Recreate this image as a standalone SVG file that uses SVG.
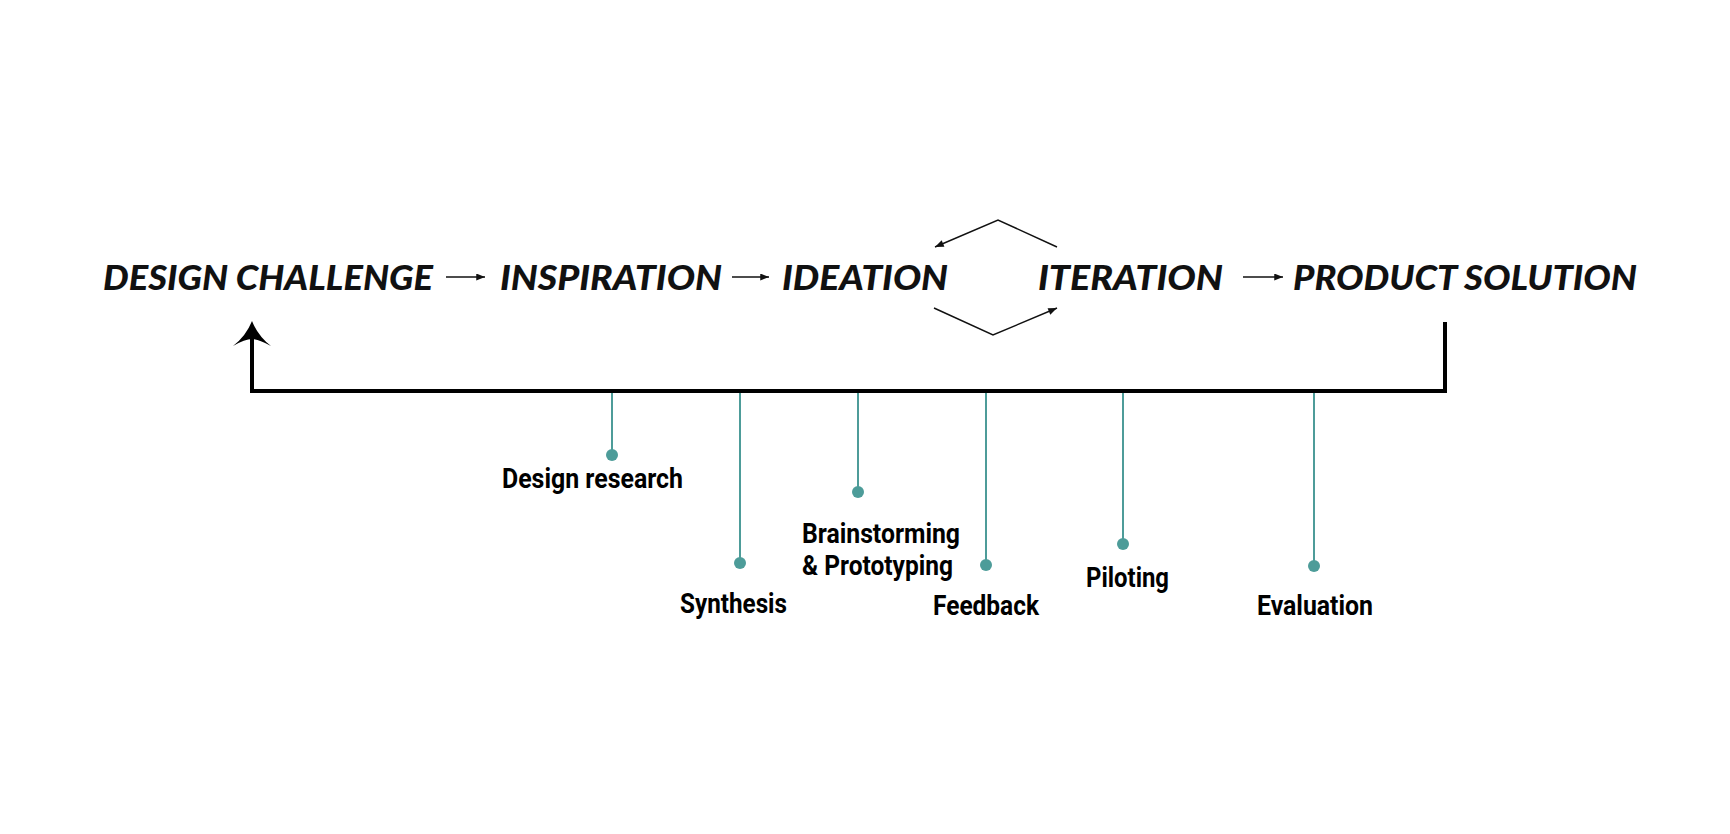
<svg xmlns="http://www.w3.org/2000/svg" width="1730" height="834" viewBox="0 0 1730 834">
<style>
.stage{font-family:"Lato","Liberation Sans","DejaVu Sans",sans-serif;font-weight:900;font-style:italic;font-size:35px;fill:#111;}
.lbl{font-family:"Roboto","Liberation Sans",sans-serif;font-weight:700;font-size:27.5px;fill:#000;}
.thin{stroke:#111;stroke-width:1.5;fill:none;}
.loop{stroke:#000;stroke-width:4;fill:none;stroke-linejoin:miter;}
.tick{stroke:#4d9c99;stroke-width:2;}
.dot{fill:#4d9c99;}
</style>
<defs>
<marker id="ah" viewBox="0 0 10 8" refX="10" refY="4" markerWidth="10" markerHeight="7" markerUnits="userSpaceOnUse" orient="auto">
<path d="M0,0 L10,4 L0,8 Z" fill="#111"/>
</marker>
</defs>
<rect width="1730" height="834" fill="#fff"/>
<g id="node-design-challenge"><text class="stage" x="103" y="290" textLength="330" lengthAdjust="spacingAndGlyphs">DESIGN CHALLENGE</text></g>
<g id="node-inspiration"><text class="stage" x="500" y="290" textLength="222" lengthAdjust="spacingAndGlyphs">INSPIRATION</text></g>
<g id="node-ideation"><text class="stage" x="782" y="290" textLength="166" lengthAdjust="spacingAndGlyphs">IDEATION</text></g>
<g id="node-iteration"><text class="stage" x="1038" y="290" textLength="185" lengthAdjust="spacingAndGlyphs">ITERATION</text></g>
<g id="node-product-solution"><text class="stage" x="1293" y="290" textLength="344" lengthAdjust="spacingAndGlyphs">PRODUCT SOLUTION</text></g>
<g id="connectors">
<line class="thin" x1="446" y1="277" x2="485" y2="277" marker-end="url(#ah)"/>
<line class="thin" x1="732" y1="277" x2="769" y2="277" marker-end="url(#ah)"/>
<line class="thin" x1="1243" y1="277" x2="1283" y2="277" marker-end="url(#ah)"/>
<polyline class="thin" points="1057,247 998,220 935,247" marker-end="url(#ah)"/>
<polyline class="thin" points="934,308 993,335 1057,308" marker-end="url(#ah)"/>
<polyline class="loop" points="1445,322 1445,391 252,391 252,336"/>
<path d="M252,321 Q258,336 271,346 Q259,339 252,339 Q245,339 233,346 Q246,336 252,321 Z" fill="#000"/>
<line class="tick" x1="612" y1="393" x2="612" y2="455"/>
<line class="tick" x1="740" y1="393" x2="740" y2="563"/>
<line class="tick" x1="858" y1="393" x2="858" y2="492"/>
<line class="tick" x1="986" y1="393" x2="986" y2="565"/>
<line class="tick" x1="1123" y1="393" x2="1123" y2="544"/>
<line class="tick" x1="1314" y1="393" x2="1314" y2="566"/>
</g>
<g id="node-design-research"><circle class="dot" cx="612" cy="455" r="6"/><text class="lbl" x="502" y="488" textLength="181" lengthAdjust="spacingAndGlyphs">Design research</text></g>
<g id="node-synthesis"><circle class="dot" cx="740" cy="563" r="6"/><text class="lbl" x="680" y="613" textLength="107" lengthAdjust="spacingAndGlyphs">Synthesis</text></g>
<g id="node-brainstorming"><circle class="dot" cx="858" cy="492" r="6"/><text class="lbl" x="802" y="543" textLength="158" lengthAdjust="spacingAndGlyphs">Brainstorming</text><text class="lbl" x="802" y="575" textLength="151" lengthAdjust="spacingAndGlyphs">&amp; Prototyping</text></g>
<g id="node-feedback"><circle class="dot" cx="986" cy="565" r="6"/><text class="lbl" x="933" y="615" textLength="106" lengthAdjust="spacingAndGlyphs">Feedback</text></g>
<g id="node-piloting"><circle class="dot" cx="1123" cy="544" r="6"/><text class="lbl" x="1086" y="587" textLength="83" lengthAdjust="spacingAndGlyphs">Piloting</text></g>
<g id="node-evaluation"><circle class="dot" cx="1314" cy="566" r="6"/><text class="lbl" x="1257" y="615" textLength="116" lengthAdjust="spacingAndGlyphs">Evaluation</text></g>
</svg>
